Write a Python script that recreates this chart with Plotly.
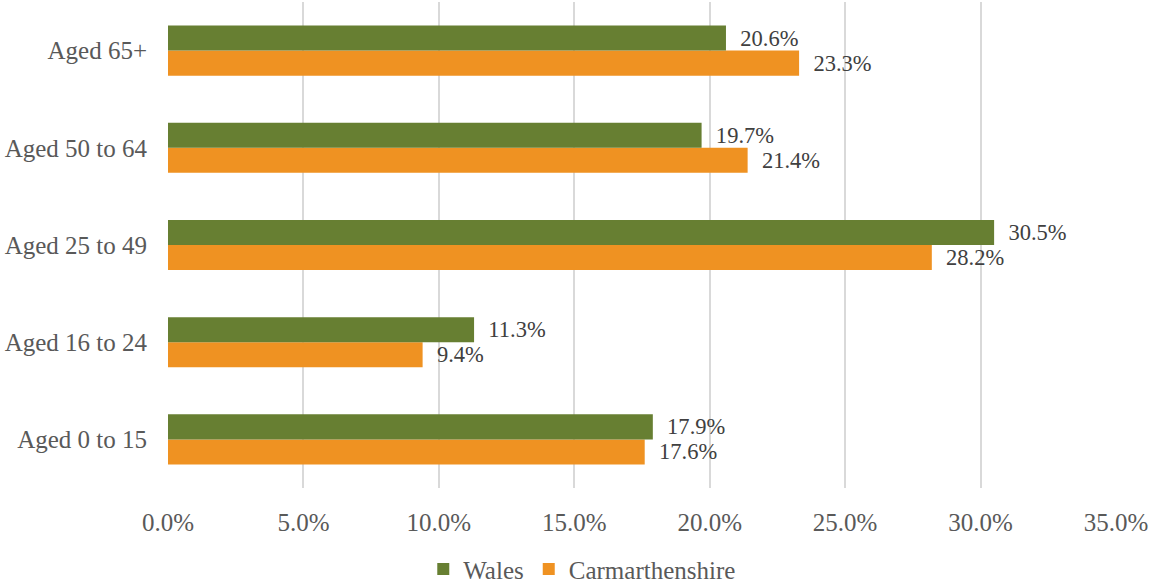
import plotly.graph_objects as go

categories = ["Aged 0 to 15", "Aged 16 to 24", "Aged 25 to 49", "Aged 50 to 64", "Aged 65+"]
wales = [17.9, 11.3, 30.5, 19.7, 20.6]
carmarthenshire = [17.6, 9.4, 28.2, 21.4, 23.3]
tick_vals = [0, 5, 10, 15, 20, 25, 30, 35]

FONT = "Liberation Serif"
PAD = "\u00a0\u00a0"

fig = go.Figure()
fig.add_trace(go.Bar(
    y=categories, x=carmarthenshire, name="Carmarthenshire", orientation="h",
    marker=dict(color="#EF9222", line=dict(width=0)), legendrank=2,
    text=carmarthenshire, texttemplate=PAD + "%{x:.1f}%", textposition="outside",
    textfont=dict(family=FONT, size=27, color="#404040"), cliponaxis=False,
))
fig.add_trace(go.Bar(
    y=categories, x=wales, name="Wales", orientation="h",
    marker=dict(color="#677F32", line=dict(width=0)), legendrank=1,
    text=wales, texttemplate=PAD + "%{x:.1f}%", textposition="outside",
    textfont=dict(family=FONT, size=27, color="#404040"), cliponaxis=False,
))

fig.update_layout(
    width=1149, height=584,
    margin=dict(l=168, r=33, t=2, b=96, autoexpand=False),
    paper_bgcolor="white", plot_bgcolor="white",
    barmode="group", bargap=0.485, bargroupgap=0,
    font=dict(family=FONT, size=25, color="#595959"),
    xaxis=dict(range=[0, 35], tickvals=tick_vals, ticktext=[f"{v:.1f}%" for v in tick_vals],
               showgrid=True, gridcolor="#D9D9D9", gridwidth=1.5, zeroline=False,
               showline=False, ticks="outside", ticklen=12, tickcolor="rgba(0,0,0,0)",
               automargin=False,
               tickfont=dict(family=FONT, size=25, color="#595959")),
    yaxis=dict(showgrid=False, showline=False, ticks="", ticklabelstandoff=20,
               automargin=False,
               tickfont=dict(family=FONT, size=25, color="#595959")),
    legend=dict(orientation="h", x=0.437, xanchor="center", y=-0.167, yanchor="middle",
                font=dict(family=FONT, size=25, color="#595959"),
                itemwidth=30, traceorder="normal", borderwidth=0),
    showlegend=True,
)

fig.write_html("out.html", config={"displayModeBar": False},
               post_script="document.body.style.margin='0';document.body.style.padding='0';")
